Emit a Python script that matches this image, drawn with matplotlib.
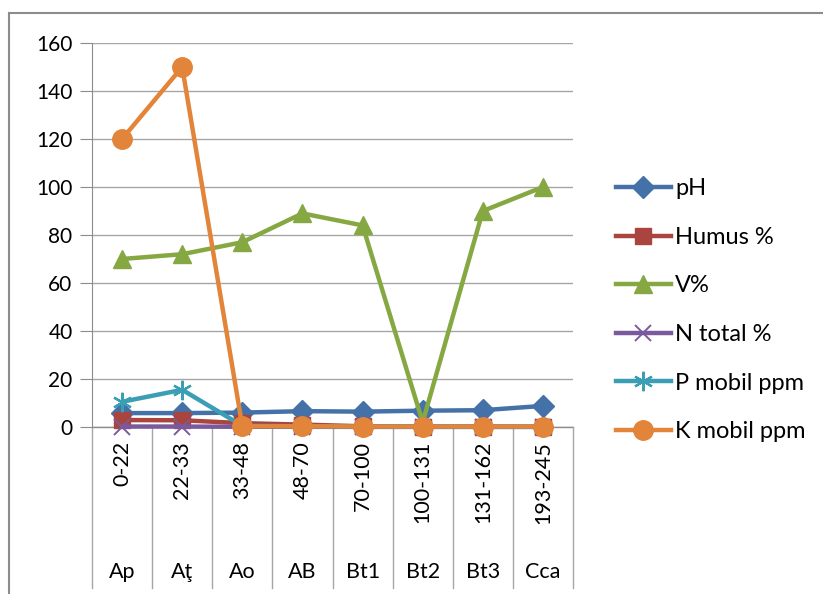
"""
Soil profile chart - pH, humus, V%, N, P, K per horizon
"""
import matplotlib
matplotlib.use('Agg')
import matplotlib.pyplot as plt
import matplotlib.transforms as mtransforms

# data
horizons = ['Ap', 'Aţ', 'Ao', 'AB', 'Bt1', 'Bt2', 'Bt3', 'Cca']
depths = ['0-22', '22-33', '33-48', '48-70', '70-100', '100-131', '131-162', '193-245']

ph = [5.8, 5.8, 6.0, 6.6, 6.4, 6.8, 7.0, 8.8]
humus = [2.9, 2.8, 1.6, 1.0, 0.3, 0.2, 0.2, 0.1]
v_pct = [70, 72, 77, 89, 84, 2, 90, 100]
n_total = [0.2, 0.18, 0.1, 0.08, 0.05, 0.04, 0.03, 0.02]
p_mobil = [10.5, 15.5, 0.5, 0.3, 0.2, 0.1, 0.1, 0.1]
k_mobil = [120, 150, 0.3, 0.3, 0.2, 0.2, 0.2, 0.2]

series = [
    ('pH', ph, '#4472a8', 'D', 11),
    ('Humus %', humus, '#a9443f', 's', 11),
    ('V%', v_pct, '#86a843', '^', 13),
    ('N total %', n_total, '#7a5a9c', 'x', 12),
    ('P mobil ppm', p_mobil, '#3a9fb4', '*', 0),
    ('K mobil ppm', k_mobil, '#e2843a', 'o', 14),
]

plt.rcParams['font.family'] = ['Lato', 'DejaVu Sans']
fig = plt.figure(figsize=(8.23, 5.94), dpi=100)
W, H = 823, 594
ax = fig.add_axes([92 / W, 1 - 427 / H, (573 - 92) / W, (427 - 43) / H])

x = list(range(len(horizons)))
for name, vals, color, mk, ms in series:
    if mk == '*':
        # asterisk style marker like Excel
        ax.plot(x, vals, color=color, lw=3.2, marker=(6, 2, 0), ms=14,
                mew=1.6, mec=color, label=name, zorder=3, clip_on=False)
    elif mk == 'x':
        ax.plot(x, vals, color=color, lw=3.2, marker='x', ms=ms,
                mew=1.4, mec=color, label=name, zorder=3, clip_on=False)
    else:
        ax.plot(x, vals, color=color, lw=3.2, marker=mk, ms=ms,
                mec=color, mfc=color, label=name, zorder=3, clip_on=False)

ax.set_xlim(-0.5, len(horizons) - 0.5)
ax.set_ylim(0, 160)
ax.set_yticks(range(0, 161, 20))
ax.yaxis.grid(True, color='#a6a6a6', lw=1)
ax.set_axisbelow(True)
for s in ['top', 'right', 'bottom']:
    ax.spines[s].set_visible(False)
ax.spines['left'].set_color('#8c8c8c')
ax.tick_params(axis='y', length=9, color='#8c8c8c', labelsize=15, pad=5)
ax.set_xticks([])

# multi-level category axis
trans = mtransforms.blended_transform_factory(ax.transData, ax.transAxes)
y_bot = -(588 - 427) / (427 - 43)
ax.plot([-0.5, len(horizons) - 0.5], [0, 0], color='#8c8c8c', lw=1,
        transform=trans, clip_on=False, zorder=1)
for b in range(len(horizons) + 1):
    ax.plot([b - 0.5, b - 0.5], [0, y_bot], color='#a6a6a6', lw=1,
            transform=trans, clip_on=False)
for i in x:
    ax.text(i, -(441 - 427) / 384, depths[i], rotation=90, ha='center', va='top',
            fontsize=15.5, transform=trans)
    ax.text(i, -(572 - 427) / 384, horizons[i], ha='center', va='center',
            fontsize=15.5, transform=trans)

leg = ax.legend(loc='upper left', bbox_to_anchor=(595 / W, 1 - 157 / H),
                bbox_transform=fig.transFigure, frameon=False, fontsize=17,
                handlelength=2.3, labelspacing=1.17, handletextpad=0.2)

# chart area border
fig.add_artist(plt.Line2D([9 / W, 9 / W], [1 - 13 / H, 0], color='#8c8c8c', lw=1.5))
fig.add_artist(plt.Line2D([9 / W, 1], [1 - 13 / H, 1 - 13 / H], color='#8c8c8c', lw=1.5))

fig.savefig('out.png', dpi=100, facecolor='white')
